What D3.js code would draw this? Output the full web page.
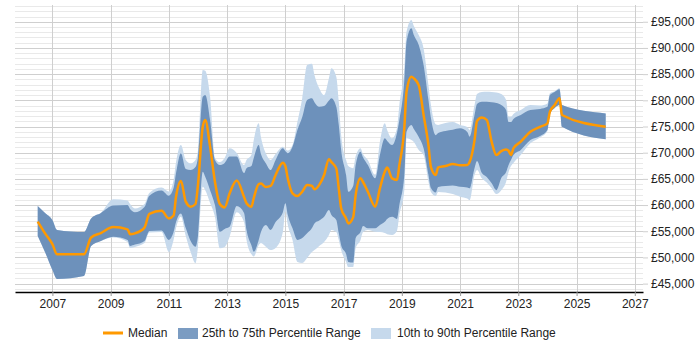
<!DOCTYPE html>
<html>
<head>
<meta charset="utf-8">
<script src="https://cdnjs.cloudflare.com/ajax/libs/d3/7.8.5/d3.min.js"></script>
<style>
  body { margin: 0; background: #fff; }
  svg { display: block; font-family: Arial, 'Liberation Sans', sans-serif; }
</style>
</head>
<body>
<script>
var width = 700,
    height = 350;

var margin = {
  top: 5,
  right: 57,
  bottom: 58,
  left: 15
};

var medianColor = '#ff9900',
    innerColor = '#6d91bb',
    outerColor = '#c6d9ec';

// sample months (YYYY-MM)
var dates = [
  '2006-07','2006-10','2007-01','2007-03','2008-02','2008-05','2008-09','2009-02','2009-08','2009-09',
  '2009-11','2010-03','2010-05','2010-10','2011-01','2011-03','2011-04','2011-06','2011-08','2011-10',
  '2011-12','2012-01','2012-03','2012-04','2012-06','2012-08','2012-10','2012-12','2013-02','2013-05',
  '2013-08','2013-09','2013-11','2013-12','2014-02','2014-03','2014-05','2014-07','2014-09','2014-12',
  '2015-01','2015-02','2015-04','2015-06','2015-08','2015-10','2015-12','2016-01','2016-03','2016-05',
  '2016-07','2016-08','2016-10','2016-11','2016-12','2017-02','2017-03','2017-05','2017-06','2017-08',
  '2017-09','2017-11','2018-02','2018-04','2018-06','2018-07','2018-09','2018-11','2018-12','2019-02',
  '2019-03','2019-05','2019-06','2019-08','2019-10','2019-12','2020-01','2020-03','2020-04','2020-07',
  '2020-10','2021-01','2021-04','2021-05','2021-07','2021-08','2021-10','2021-12','2022-02','2022-04',
  '2022-06','2022-08','2022-09','2022-10','2022-11','2023-02','2023-06','2023-10','2024-01','2024-02',
  '2024-04','2024-06','2024-07','2026-01'
];

var p90 = [
  59800,58500,57150,55250,54850,57450,58500,61100,60850,60200,
  59350,60200,62300,63350,62600,64800,68200,71450,68600,67950,
  68600,70500,85800,85650,80700,69000,68200,69000,70850,69950,
  67650,68600,69550,72400,75600,73000,69900,68600,69750,71150,
  70700,70400,71450,75850,80450,86750,87000,84850,82300,81000,
  84250,86100,84500,79750,73350,68600,67450,67050,69350,70850,
  69750,68600,65750,72100,75600,74350,72750,74650,79100,86150,
  93100,95350,94200,92450,89900,82900,79100,75450,75300,75650,
  75850,75300,74900,74350,79100,81200,81600,81650,81600,81500,
  81200,80050,76850,76850,77400,78150,79100,79000,79400,81350,
  81750,82300,79100,77500
];

var p75 = [
  59800,58500,57150,55250,54850,57450,58500,59900,60000,59250,
  58650,59650,61800,62800,61800,63250,66100,69900,66900,66700,
  67250,69150,80700,81000,76250,68600,67650,68050,69250,69250,
  66100,67050,67450,69000,71450,69750,68000,66700,68600,70850,
  70300,69900,71150,74350,76800,80050,80400,79650,78750,78900,
  79950,80400,78750,75300,70500,65750,62550,63650,67650,70200,
  69150,67650,65100,69550,72750,72250,71450,73750,76250,83850,
  91200,93750,92450,90550,86750,80050,76600,73350,73750,74150,
  74400,74650,73950,73050,77200,79300,79750,79750,79650,79500,
  79100,78150,75850,75850,76450,77200,78150,78350,78750,81000,
  81600,82100,79100,77500
];

var median = [
  56850,54600,52550,50600,50600,53800,54650,55800,55350,54450,
  54600,55700,58300,58900,57450,58000,61600,64600,60650,59700,
  60200,63850,74950,76250,71150,64450,60200,59550,62250,64700,
  61550,60350,59700,61350,64000,64100,63450,63650,65750,68100,
  67450,65050,62250,61750,62550,63850,63650,63000,63850,65750,
  68750,68200,67000,63200,59400,57450,56500,57700,61900,65100,
  64400,62550,59700,63200,66350,67150,65100,64800,67650,74650,
  81650,84500,84200,82900,77200,71450,67250,65750,67200,67450,
  67850,67600,67650,68250,72400,76050,76700,76250,72050,69550,
  70300,70600,70350,69550,70850,72100,74000,74950,75600,77800,
  79100,80400,77200,74950
];

var p25 = [
  54100,51000,47600,45900,46450,52200,53150,53950,53350,52200,
  52450,53150,55050,55150,53350,54850,56750,58400,55600,53150,
  52050,54100,66350,65400,62850,60000,54900,55450,55850,59800,
  58500,55250,52350,51100,53350,54850,56200,55250,56750,58650,
  60350,58100,55550,53350,53700,54600,55600,56500,57050,57750,
  59050,58100,57150,54650,52350,50650,49150,49050,53700,54850,
  56000,55550,55550,56200,56800,57350,57750,57350,60000,65750,
  74000,75300,74500,73000,70850,65750,63250,62400,63450,63650,
  63750,63500,63350,63200,67050,68400,66100,65350,64150,62850,
  65150,66300,67650,68600,69550,70500,72400,73200,74350,77400,
  78550,79100,74950,72550
];

var p10 = [
  54100,51000,47600,45900,46450,52200,53150,53800,52950,51800,
  52000,52750,54750,54850,51050,53350,55600,57750,54100,51050,
  48900,52000,63500,62850,60400,57750,51750,52000,53950,58650,
  56750,53350,50650,50200,52350,52750,52050,51400,51800,54850,
  58750,56200,53350,49150,48950,49900,51050,51400,52200,52950,
  54300,55250,54850,53350,51400,49150,48150,48150,51800,53350,
  54850,55250,54900,54850,54650,54450,54300,55050,58100,62850,
  72750,72400,72050,70500,69550,64450,62500,61750,62500,62400,
  62100,61600,61250,60950,65750,66700,65100,64300,63200,62100,
  62850,64450,66300,67450,68050,69550,71800,72900,74150,77300,
  78500,79100,74950,72550
];

var yearTicks = [2007, 2009, 2011, 2013, 2015, 2017, 2019, 2021, 2023, 2025, 2027];
var salaryTicks = [45000, 50000, 55000, 60000, 65000, 70000, 75000, 80000, 85000, 90000, 95000];
var legendLabels = ['Median', '25th to 75th Percentile Range', '10th to 90th Percentile Range'];

var parseMonth = d3.timeParse('%Y-%m');

var rows = dates.map(function(d, i) {
  return {
    date: parseMonth(d),
    p10: p10[i],
    p25: p25[i],
    median: median[i],
    p75: p75[i],
    p90: p90[i]
  };
});

var svg = d3.select('body')
      .append('svg')
      .attr('width', width)
      .attr('height', height);

var xScale = d3.scaleTime()
    .domain([new Date(2005, 8, 19), new Date(2027, 3, 14)])
    .range([margin.left, width - margin.right]);

var yScale = d3.scaleLinear()
    .domain([43400, 98200])
    .range([height - margin.bottom, margin.top]);

var bottom = height - margin.bottom;

// minor gridlines every 1000
svg.append('g')
  .selectAll('line')
  .data(d3.range(44000, 98001, 1000).filter(function(v) { return v % 5000 !== 0; }))
  .enter()
  .append('line')
  .attr('x1', margin.left)
  .attr('x2', width - margin.right)
  .attr('y1', function(d) { return Math.round(yScale(d)) + 0.5; })
  .attr('y2', function(d) { return Math.round(yScale(d)) + 0.5; })
  .style('stroke', '#e9e9e9');

svg.append('g')
  .selectAll('line')
  .data(salaryTicks)
  .enter()
  .append('line')
  .attr('x1', margin.left)
  .attr('x2', width - margin.right)
  .attr('y1', function(d) { return Math.round(yScale(d)) + 0.5; })
  .attr('y2', function(d) { return Math.round(yScale(d)) + 0.5; })
  .style('stroke', '#cfcfcf');

svg.append('g')
  .selectAll('line')
  .data(yearTicks)
  .enter()
  .append('line')
  .attr('x1', function(d) { return Math.round(xScale(new Date(d, 0, 1))) + 0.5; })
  .attr('x2', function(d) { return Math.round(xScale(new Date(d, 0, 1))) + 0.5; })
  .attr('y1', margin.top)
  .attr('y2', bottom)
  .style('stroke', '#cfcfcf');

var outerArea = d3.area()
    .curve(d3.curveMonotoneX)
    .x(function(d) { return xScale(d.date); })
    .y0(function(d) { return yScale(d.p10); })
    .y1(function(d) { return yScale(d.p90); });

var innerArea = d3.area()
    .curve(d3.curveMonotoneX)
    .x(function(d) { return xScale(d.date); })
    .y0(function(d) { return yScale(d.p25); })
    .y1(function(d) { return yScale(d.p75); });

var medianLine = d3.line()
    .curve(d3.curveMonotoneX)
    .x(function(d) { return xScale(d.date); })
    .y(function(d) { return yScale(d.median); });

svg.append('path')
  .datum(rows)
  .attr('d', outerArea)
  .style('fill', outerColor);

svg.append('path')
  .datum(rows)
  .attr('d', innerArea)
  .style('fill', innerColor);

svg.append('path')
  .datum(rows)
  .attr('d', medianLine)
  .style('fill', 'none')
  .style('stroke', medianColor)
  .style('stroke-width', 2.5)
  .style('stroke-linejoin', 'round');

var xAxis = d3.axisBottom(xScale)
    .tickValues(yearTicks.map(function(y) { return new Date(y, 0, 1); }))
    .tickFormat(d3.timeFormat('%Y'))
    .tickSize(4)
    .tickSizeOuter(0)
    .tickPadding(3);

var yAxis = d3.axisRight(yScale)
    .tickValues(salaryTicks)
    .tickFormat(function(d) { return '£' + d3.format(',')(d); })
    .tickSize(5)
    .tickPadding(3);

var gx = svg.append('g')
  .attr('transform', 'translate(0,' + bottom + ')')
  .call(xAxis);

gx.select('.domain').style('stroke', '#000').style('stroke-width', 1.5);
gx.selectAll('.tick line').style('stroke', '#999');
gx.selectAll('.tick text')
  .style('font-size', '12px')
  .style('font-family', "Arial, 'Liberation Sans', sans-serif")
  .style('fill', '#222');

var gy = svg.append('g')
  .attr('transform', 'translate(' + (width - margin.right) + ',0)')
  .call(yAxis);

gy.select('.domain').remove();
gy.selectAll('.tick line').style('stroke', '#cfcfcf');
gy.selectAll('.tick text')
  .style('font-size', '12px')
  .style('font-family', "Arial, 'Liberation Sans', sans-serif")
  .style('fill', '#222');

// legend
var legendY = 333;
var legend = svg.append('g')
  .style('font-size', '12px')
  .style('fill', '#222');

legend.append('line')
  .attr('x1', 103)
  .attr('x2', 123)
  .attr('y1', legendY)
  .attr('y2', legendY)
  .style('stroke', medianColor)
  .style('stroke-width', 3);

legend.append('text')
  .attr('x', 128)
  .attr('y', legendY + 4)
  .text(legendLabels[0]);

legend.append('rect')
  .attr('x', 178)
  .attr('y', legendY - 5)
  .attr('width', 20)
  .attr('height', 11)
  .style('fill', '#7b9cc2');

legend.append('text')
  .attr('x', 202)
  .attr('y', legendY + 4)
  .text(legendLabels[1]);

legend.append('rect')
  .attr('x', 371)
  .attr('y', legendY - 5)
  .attr('width', 20)
  .attr('height', 11)
  .style('fill', outerColor);

legend.append('text')
  .attr('x', 397)
  .attr('y', legendY + 4)
  .text(legendLabels[2]);
</script>
</body>
</html>
